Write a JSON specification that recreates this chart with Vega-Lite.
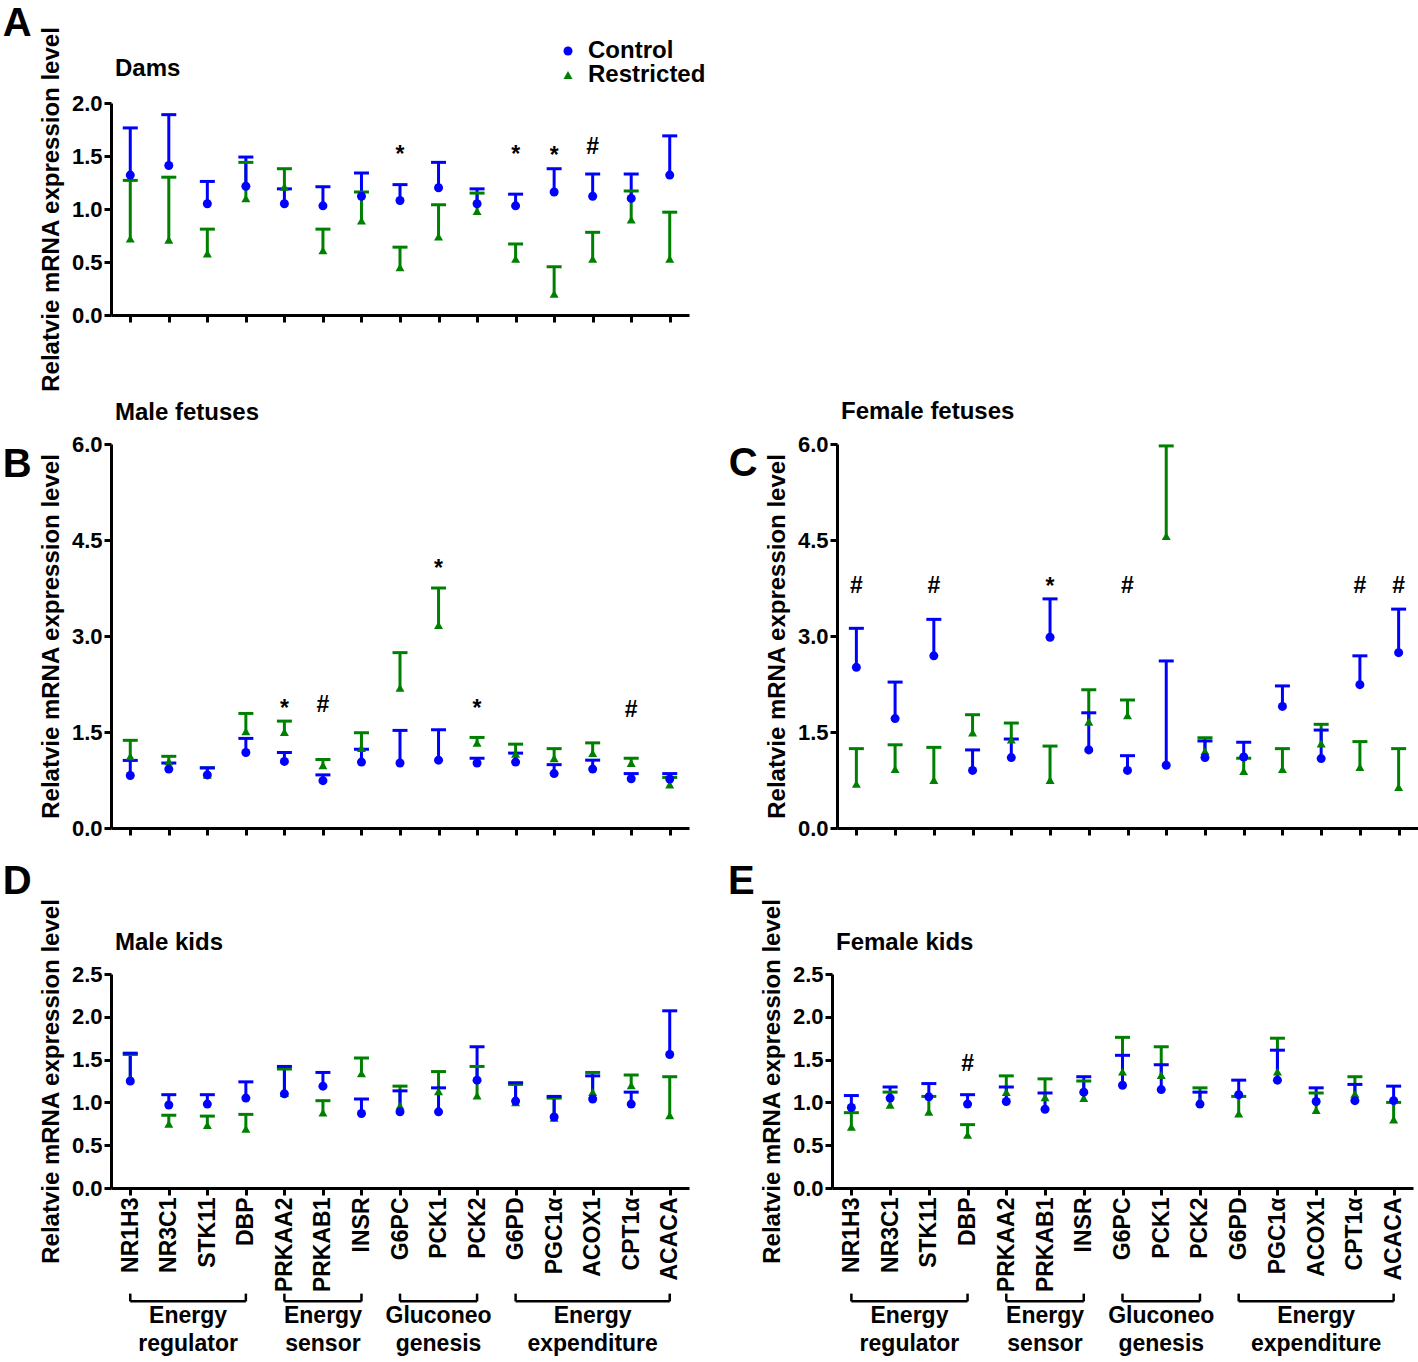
{
  "$schema": "https://vega.github.io/schema/vega-lite/v6.json",
  "padding": {"left": 2, "top": 4, "right": 0, "bottom": 0},
  "config": {
    "view": {"stroke": null},
    "font": "Liberation Sans",
    "axis": {"domainColor": "#000", "domainWidth": 3, "tickColor": "#000", "tickWidth": 3, "tickSize": 7, "labelColor": "#000", "labelFont": "Liberation Sans", "labelFontWeight": "bold", "titleColor": "#000", "titleFont": "Liberation Sans", "titleFontWeight": "bold", "titleFontSize": 24, "grid": false},
    "axisY": {"labelFontSize": 22, "labelPadding": 2, "titlePadding": 8},
    "axisX": {"labelFontSize": 23, "labelPadding": 2},
    "title": {"font": "Liberation Sans", "fontWeight": "bold", "fontSize": 24, "color": "#000"},
    "legend": {"labelFont": "Liberation Sans"}
  },
  "datasets": {
    "genes": [
      {"gene": "NR1H3", "idx": 1, "group": "Energy regulator"},
      {"gene": "NR3C1", "idx": 2, "group": "Energy regulator"},
      {"gene": "STK11", "idx": 3, "group": "Energy regulator"},
      {"gene": "DBP", "idx": 4, "group": "Energy regulator"},
      {"gene": "PRKAA2", "idx": 5, "group": "Energy sensor"},
      {"gene": "PRKAB1", "idx": 6, "group": "Energy sensor"},
      {"gene": "INSR", "idx": 7, "group": "Energy sensor"},
      {"gene": "G6PC", "idx": 8, "group": "Gluconeo genesis"},
      {"gene": "PCK1", "idx": 9, "group": "Gluconeo genesis"},
      {"gene": "PCK2", "idx": 10, "group": "Gluconeo genesis"},
      {"gene": "G6PD", "idx": 11, "group": "Energy expenditure"},
      {"gene": "PGC1α", "idx": 12, "group": "Energy expenditure"},
      {"gene": "ACOX1", "idx": 13, "group": "Energy expenditure"},
      {"gene": "CPT1α", "idx": 14, "group": "Energy expenditure"},
      {"gene": "ACACA", "idx": 15, "group": "Energy expenditure"}
    ],
    "marks": [
      {"panel": "A", "gene": "G6PC", "sig": "*", "level": 1.44},
      {"panel": "A", "gene": "G6PD", "sig": "*", "level": 1.44},
      {"panel": "A", "gene": "PGC1α", "sig": "*", "level": 1.43},
      {"panel": "A", "gene": "ACOX1", "sig": "#", "level": 1.52},
      {"panel": "B", "gene": "PRKAA2", "sig": "*", "level": 1.75},
      {"panel": "B", "gene": "PRKAB1", "sig": "#", "level": 1.82},
      {"panel": "B", "gene": "PCK1", "sig": "*", "level": 3.94},
      {"panel": "B", "gene": "PCK2", "sig": "*", "level": 1.75},
      {"panel": "B", "gene": "CPT1α", "sig": "#", "level": 1.74},
      {"panel": "C", "gene": "NR1H3", "sig": "#", "level": 3.67},
      {"panel": "C", "gene": "STK11", "sig": "#", "level": 3.67},
      {"panel": "C", "gene": "PRKAB1", "sig": "*", "level": 3.66},
      {"panel": "C", "gene": "G6PC", "sig": "#", "level": 3.67},
      {"panel": "C", "gene": "CPT1α", "sig": "#", "level": 3.67},
      {"panel": "C", "gene": "ACACA", "sig": "#", "level": 3.67},
      {"panel": "E", "gene": "DBP", "sig": "#", "level": 1.37}
    ],
    "expr": [
      {"panel": "A", "gene": "NR1H3", "group": "Restricted", "mean": 0.72, "upper": 1.27},
      {"panel": "A", "gene": "NR3C1", "group": "Restricted", "mean": 0.71, "upper": 1.30},
      {"panel": "A", "gene": "STK11", "group": "Restricted", "mean": 0.58, "upper": 0.81},
      {"panel": "A", "gene": "DBP", "group": "Restricted", "mean": 1.10, "upper": 1.44},
      {"panel": "A", "gene": "PRKAA2", "group": "Restricted", "mean": 1.21, "upper": 1.38},
      {"panel": "A", "gene": "PRKAB1", "group": "Restricted", "mean": 0.61, "upper": 0.81},
      {"panel": "A", "gene": "INSR", "group": "Restricted", "mean": 0.89, "upper": 1.16},
      {"panel": "A", "gene": "G6PC", "group": "Restricted", "mean": 0.45, "upper": 0.64},
      {"panel": "A", "gene": "PCK1", "group": "Restricted", "mean": 0.74, "upper": 1.04},
      {"panel": "A", "gene": "PCK2", "group": "Restricted", "mean": 0.98, "upper": 1.15},
      {"panel": "A", "gene": "G6PD", "group": "Restricted", "mean": 0.53, "upper": 0.67},
      {"panel": "A", "gene": "PGC1α", "group": "Restricted", "mean": 0.20, "upper": 0.455},
      {"panel": "A", "gene": "ACOX1", "group": "Restricted", "mean": 0.53, "upper": 0.78},
      {"panel": "A", "gene": "CPT1α", "group": "Restricted", "mean": 0.90, "upper": 1.17},
      {"panel": "A", "gene": "ACACA", "group": "Restricted", "mean": 0.53, "upper": 0.97},
      {"panel": "A", "gene": "NR1H3", "group": "Control", "mean": 1.32, "upper": 1.765},
      {"panel": "A", "gene": "NR3C1", "group": "Control", "mean": 1.41, "upper": 1.89},
      {"panel": "A", "gene": "STK11", "group": "Control", "mean": 1.05, "upper": 1.26},
      {"panel": "A", "gene": "DBP", "group": "Control", "mean": 1.215, "upper": 1.49},
      {"panel": "A", "gene": "PRKAA2", "group": "Control", "mean": 1.05, "upper": 1.19},
      {"panel": "A", "gene": "PRKAB1", "group": "Control", "mean": 1.03, "upper": 1.21},
      {"panel": "A", "gene": "INSR", "group": "Control", "mean": 1.12, "upper": 1.34},
      {"panel": "A", "gene": "G6PC", "group": "Control", "mean": 1.08, "upper": 1.23},
      {"panel": "A", "gene": "PCK1", "group": "Control", "mean": 1.20, "upper": 1.44},
      {"panel": "A", "gene": "PCK2", "group": "Control", "mean": 1.05, "upper": 1.19},
      {"panel": "A", "gene": "G6PD", "group": "Control", "mean": 1.03, "upper": 1.14},
      {"panel": "A", "gene": "PGC1α", "group": "Control", "mean": 1.16, "upper": 1.38},
      {"panel": "A", "gene": "ACOX1", "group": "Control", "mean": 1.12, "upper": 1.33},
      {"panel": "A", "gene": "CPT1α", "group": "Control", "mean": 1.10, "upper": 1.33},
      {"panel": "A", "gene": "ACACA", "group": "Control", "mean": 1.32, "upper": 1.69},

      {"panel": "B", "gene": "NR1H3", "group": "Restricted", "mean": 1.12, "upper": 1.37},
      {"panel": "B", "gene": "NR3C1", "group": "Restricted", "mean": 1.04, "upper": 1.12},
      {"panel": "B", "gene": "STK11", "group": "Restricted", "mean": 0.83, "upper": 0.94},
      {"panel": "B", "gene": "DBP", "group": "Restricted", "mean": 1.51, "upper": 1.79},
      {"panel": "B", "gene": "PRKAA2", "group": "Restricted", "mean": 1.50, "upper": 1.67},
      {"panel": "B", "gene": "PRKAB1", "group": "Restricted", "mean": 0.98, "upper": 1.07},
      {"panel": "B", "gene": "INSR", "group": "Restricted", "mean": 1.25, "upper": 1.49},
      {"panel": "B", "gene": "G6PC", "group": "Restricted", "mean": 2.19, "upper": 2.74},
      {"panel": "B", "gene": "PCK1", "group": "Restricted", "mean": 3.17, "upper": 3.75},
      {"panel": "B", "gene": "PCK2", "group": "Restricted", "mean": 1.33, "upper": 1.415},
      {"panel": "B", "gene": "G6PD", "group": "Restricted", "mean": 1.16, "upper": 1.31},
      {"panel": "B", "gene": "PGC1α", "group": "Restricted", "mean": 1.09, "upper": 1.24},
      {"panel": "B", "gene": "ACOX1", "group": "Restricted", "mean": 1.17, "upper": 1.33},
      {"panel": "B", "gene": "CPT1α", "group": "Restricted", "mean": 1.015, "upper": 1.09},
      {"panel": "B", "gene": "ACACA", "group": "Restricted", "mean": 0.68, "upper": 0.79},
      {"panel": "B", "gene": "NR1H3", "group": "Control", "mean": 0.82, "upper": 1.056},
      {"panel": "B", "gene": "NR3C1", "group": "Control", "mean": 0.92, "upper": 1.015},
      {"panel": "B", "gene": "STK11", "group": "Control", "mean": 0.83, "upper": 0.94},
      {"panel": "B", "gene": "DBP", "group": "Control", "mean": 1.18, "upper": 1.40},
      {"panel": "B", "gene": "PRKAA2", "group": "Control", "mean": 1.04, "upper": 1.18},
      {"panel": "B", "gene": "PRKAB1", "group": "Control", "mean": 0.74, "upper": 0.83},
      {"panel": "B", "gene": "INSR", "group": "Control", "mean": 1.03, "upper": 1.23},
      {"panel": "B", "gene": "G6PC", "group": "Control", "mean": 1.015, "upper": 1.525},
      {"panel": "B", "gene": "PCK1", "group": "Control", "mean": 1.06, "upper": 1.535},
      {"panel": "B", "gene": "PCK2", "group": "Control", "mean": 1.015, "upper": 1.09},
      {"panel": "B", "gene": "G6PD", "group": "Control", "mean": 1.03, "upper": 1.17},
      {"panel": "B", "gene": "PGC1α", "group": "Control", "mean": 0.85, "upper": 0.99},
      {"panel": "B", "gene": "ACOX1", "group": "Control", "mean": 0.92, "upper": 1.06},
      {"panel": "B", "gene": "CPT1α", "group": "Control", "mean": 0.77, "upper": 0.85},
      {"panel": "B", "gene": "ACACA", "group": "Control", "mean": 0.765, "upper": 0.85},

      {"panel": "C", "gene": "NR1H3", "group": "Restricted", "mean": 0.69, "upper": 1.24},
      {"panel": "C", "gene": "NR3C1", "group": "Restricted", "mean": 0.92, "upper": 1.30},
      {"panel": "C", "gene": "STK11", "group": "Restricted", "mean": 0.75, "upper": 1.26},
      {"panel": "C", "gene": "DBP", "group": "Restricted", "mean": 1.49, "upper": 1.77},
      {"panel": "C", "gene": "PRKAA2", "group": "Restricted", "mean": 1.38, "upper": 1.64},
      {"panel": "C", "gene": "PRKAB1", "group": "Restricted", "mean": 0.75, "upper": 1.28},
      {"panel": "C", "gene": "INSR", "group": "Restricted", "mean": 1.66, "upper": 2.16},
      {"panel": "C", "gene": "G6PC", "group": "Restricted", "mean": 1.76, "upper": 2.00},
      {"panel": "C", "gene": "PCK1", "group": "Restricted", "mean": 4.56, "upper": 5.97},
      {"panel": "C", "gene": "PCK2", "group": "Restricted", "mean": 1.20, "upper": 1.41},
      {"panel": "C", "gene": "G6PD", "group": "Restricted", "mean": 0.89, "upper": 1.09},
      {"panel": "C", "gene": "PGC1α", "group": "Restricted", "mean": 0.92, "upper": 1.24},
      {"panel": "C", "gene": "ACOX1", "group": "Restricted", "mean": 1.32, "upper": 1.62},
      {"panel": "C", "gene": "CPT1α", "group": "Restricted", "mean": 0.95, "upper": 1.35},
      {"panel": "C", "gene": "ACACA", "group": "Restricted", "mean": 0.64, "upper": 1.24},
      {"panel": "C", "gene": "NR1H3", "group": "Control", "mean": 2.51, "upper": 3.12},
      {"panel": "C", "gene": "NR3C1", "group": "Control", "mean": 1.71, "upper": 2.28},
      {"panel": "C", "gene": "STK11", "group": "Control", "mean": 2.69, "upper": 3.26},
      {"panel": "C", "gene": "DBP", "group": "Control", "mean": 0.90, "upper": 1.22},
      {"panel": "C", "gene": "PRKAA2", "group": "Control", "mean": 1.10, "upper": 1.39},
      {"panel": "C", "gene": "PRKAB1", "group": "Control", "mean": 2.98, "upper": 3.58},
      {"panel": "C", "gene": "INSR", "group": "Control", "mean": 1.22, "upper": 1.80},
      {"panel": "C", "gene": "G6PC", "group": "Control", "mean": 0.90, "upper": 1.13},
      {"panel": "C", "gene": "PCK1", "group": "Control", "mean": 0.98, "upper": 2.61},
      {"panel": "C", "gene": "PCK2", "group": "Control", "mean": 1.10, "upper": 1.36},
      {"panel": "C", "gene": "G6PD", "group": "Control", "mean": 1.11, "upper": 1.34},
      {"panel": "C", "gene": "PGC1α", "group": "Control", "mean": 1.90, "upper": 2.22},
      {"panel": "C", "gene": "ACOX1", "group": "Control", "mean": 1.085, "upper": 1.53},
      {"panel": "C", "gene": "CPT1α", "group": "Control", "mean": 2.24, "upper": 2.69},
      {"panel": "C", "gene": "ACACA", "group": "Control", "mean": 2.74, "upper": 3.42},

      {"panel": "D", "gene": "NR1H3", "group": "Restricted", "mean": 1.27, "upper": 1.56},
      {"panel": "D", "gene": "NR3C1", "group": "Restricted", "mean": 0.75, "upper": 0.85},
      {"panel": "D", "gene": "STK11", "group": "Restricted", "mean": 0.735, "upper": 0.84},
      {"panel": "D", "gene": "DBP", "group": "Restricted", "mean": 0.69, "upper": 0.86},
      {"panel": "D", "gene": "PRKAA2", "group": "Restricted", "mean": 1.11, "upper": 1.39},
      {"panel": "D", "gene": "PRKAB1", "group": "Restricted", "mean": 0.88, "upper": 1.02},
      {"panel": "D", "gene": "INSR", "group": "Restricted", "mean": 1.34, "upper": 1.52},
      {"panel": "D", "gene": "G6PC", "group": "Restricted", "mean": 0.96, "upper": 1.19},
      {"panel": "D", "gene": "PCK1", "group": "Restricted", "mean": 1.13, "upper": 1.36},
      {"panel": "D", "gene": "PCK2", "group": "Restricted", "mean": 1.08, "upper": 1.42},
      {"panel": "D", "gene": "G6PD", "group": "Restricted", "mean": 1.00, "upper": 1.21},
      {"panel": "D", "gene": "PGC1α", "group": "Restricted", "mean": 0.82, "upper": 1.05},
      {"panel": "D", "gene": "ACOX1", "group": "Restricted", "mean": 1.12, "upper": 1.35},
      {"panel": "D", "gene": "CPT1α", "group": "Restricted", "mean": 1.20, "upper": 1.32},
      {"panel": "D", "gene": "ACACA", "group": "Restricted", "mean": 0.85, "upper": 1.30},
      {"panel": "D", "gene": "NR1H3", "group": "Control", "mean": 1.25, "upper": 1.575},
      {"panel": "D", "gene": "NR3C1", "group": "Control", "mean": 0.97, "upper": 1.09},
      {"panel": "D", "gene": "STK11", "group": "Control", "mean": 0.98, "upper": 1.09},
      {"panel": "D", "gene": "DBP", "group": "Control", "mean": 1.05, "upper": 1.24},
      {"panel": "D", "gene": "PRKAA2", "group": "Control", "mean": 1.10, "upper": 1.42},
      {"panel": "D", "gene": "PRKAB1", "group": "Control", "mean": 1.19, "upper": 1.35},
      {"panel": "D", "gene": "INSR", "group": "Control", "mean": 0.87, "upper": 1.04},
      {"panel": "D", "gene": "G6PC", "group": "Control", "mean": 0.89, "upper": 1.135},
      {"panel": "D", "gene": "PCK1", "group": "Control", "mean": 0.89, "upper": 1.17},
      {"panel": "D", "gene": "PCK2", "group": "Control", "mean": 1.26, "upper": 1.65},
      {"panel": "D", "gene": "G6PD", "group": "Control", "mean": 1.015, "upper": 1.23},
      {"panel": "D", "gene": "PGC1α", "group": "Control", "mean": 0.83, "upper": 1.07},
      {"panel": "D", "gene": "ACOX1", "group": "Control", "mean": 1.04, "upper": 1.31},
      {"panel": "D", "gene": "CPT1α", "group": "Control", "mean": 0.98, "upper": 1.12},
      {"panel": "D", "gene": "ACACA", "group": "Control", "mean": 1.56, "upper": 2.07},

      {"panel": "E", "gene": "NR1H3", "group": "Restricted", "mean": 0.715, "upper": 0.88},
      {"panel": "E", "gene": "NR3C1", "group": "Restricted", "mean": 0.97, "upper": 1.12},
      {"panel": "E", "gene": "STK11", "group": "Restricted", "mean": 0.89, "upper": 1.07},
      {"panel": "E", "gene": "DBP", "group": "Restricted", "mean": 0.62, "upper": 0.74},
      {"panel": "E", "gene": "PRKAA2", "group": "Restricted", "mean": 1.12, "upper": 1.31},
      {"panel": "E", "gene": "PRKAB1", "group": "Restricted", "mean": 1.06, "upper": 1.275},
      {"panel": "E", "gene": "INSR", "group": "Restricted", "mean": 1.05, "upper": 1.25},
      {"panel": "E", "gene": "G6PC", "group": "Restricted", "mean": 1.36, "upper": 1.76},
      {"panel": "E", "gene": "PCK1", "group": "Restricted", "mean": 1.32, "upper": 1.65},
      {"panel": "E", "gene": "PCK2", "group": "Restricted", "mean": 1.015, "upper": 1.17},
      {"panel": "E", "gene": "G6PD", "group": "Restricted", "mean": 0.87, "upper": 1.07},
      {"panel": "E", "gene": "PGC1α", "group": "Restricted", "mean": 1.36, "upper": 1.75},
      {"panel": "E", "gene": "ACOX1", "group": "Restricted", "mean": 0.91, "upper": 1.11},
      {"panel": "E", "gene": "CPT1α", "group": "Restricted", "mean": 1.10, "upper": 1.30},
      {"panel": "E", "gene": "ACACA", "group": "Restricted", "mean": 0.80, "upper": 1.00},
      {"panel": "E", "gene": "NR1H3", "group": "Control", "mean": 0.94, "upper": 1.08},
      {"panel": "E", "gene": "NR3C1", "group": "Control", "mean": 1.05, "upper": 1.18},
      {"panel": "E", "gene": "STK11", "group": "Control", "mean": 1.065, "upper": 1.22},
      {"panel": "E", "gene": "DBP", "group": "Control", "mean": 0.98, "upper": 1.09},
      {"panel": "E", "gene": "PRKAA2", "group": "Control", "mean": 1.01, "upper": 1.18},
      {"panel": "E", "gene": "PRKAB1", "group": "Control", "mean": 0.92, "upper": 1.11},
      {"panel": "E", "gene": "INSR", "group": "Control", "mean": 1.12, "upper": 1.30},
      {"panel": "E", "gene": "G6PC", "group": "Control", "mean": 1.20, "upper": 1.55},
      {"panel": "E", "gene": "PCK1", "group": "Control", "mean": 1.15, "upper": 1.44},
      {"panel": "E", "gene": "PCK2", "group": "Control", "mean": 0.98, "upper": 1.12},
      {"panel": "E", "gene": "G6PD", "group": "Control", "mean": 1.09, "upper": 1.26},
      {"panel": "E", "gene": "PGC1α", "group": "Control", "mean": 1.26, "upper": 1.61},
      {"panel": "E", "gene": "ACOX1", "group": "Control", "mean": 1.01, "upper": 1.17},
      {"panel": "E", "gene": "CPT1α", "group": "Control", "mean": 1.02, "upper": 1.21},
      {"panel": "E", "gene": "ACACA", "group": "Control", "mean": 1.02, "upper": 1.19}
    ]
  },
  "spacing": 23,
  "vconcat": [
    {
      "spacing": 8,
      "vconcat": [
        {
          "title": {"text": "A", "orient": "left", "anchor": "end", "frame": "bounds", "angle": 0, "align": "right", "baseline": "top", "fontSize": 40, "offset": -21, "dy": -22},
          "vconcat": [
            {
              "width": 578, "height": 212,
              "title": {"text": "Dams", "anchor": "start", "frame": "group", "offset": -74, "dx": 4, "baseline": "alphabetic"},
              "resolve": {"legend": {"color": "independent", "shape": "independent"}},
              "layer": [
                {"data": {"name": "expr"}, "transform": [{"filter": "datum.panel === 'A'"}],
                 "mark": {"type": "rule", "strokeWidth": 3},
                 "encoding": {
                   "x": {"field": "gene", "type": "nominal", "title": null, "scale": {"type": "point", "domain": ["NR1H3","NR3C1","STK11","DBP","PRKAA2","PRKAB1","INSR","G6PC","PCK1","PCK2","G6PD","PGC1α","ACOX1","CPT1α","ACACA"], "padding": 0.5}, "axis": {"labels": false, "title": null}},
                   "y": {"field": "mean", "type": "quantitative", "title": "Relatvie mRNA expression level", "scale": {"domain": [0, 2], "nice": false}, "axis": {"values": [0, 0.5, 1, 1.5, 2], "format": ".1f"}},
                   "y2": {"field": "upper"},
                   "color": {"field": "group", "type": "nominal", "scale": {"domain": ["Control", "Restricted"], "range": ["#0000ff", "#008000"]}, "legend": null}
                 }},
                {"data": {"name": "expr"}, "transform": [{"filter": "datum.panel === 'A'"}],
                 "mark": {"type": "tick", "thickness": 3, "size": 15, "opacity": 1},
                 "encoding": {
                   "x": {"field": "gene", "type": "nominal", "title": null},
                   "y": {"field": "upper", "type": "quantitative", "title": "Relatvie mRNA expression level"},
                   "color": {"field": "group", "type": "nominal", "legend": null}
                 }},
                {"data": {"name": "expr"}, "transform": [{"filter": "datum.panel === 'A'"}],
                 "mark": {"type": "point", "filled": true, "size": 81, "opacity": 1},
                 "encoding": {
                   "x": {"field": "gene", "type": "nominal", "title": null},
                   "y": {"field": "mean", "type": "quantitative", "title": "Relatvie mRNA expression level"},
                   "color": {"field": "group", "type": "nominal", "legend": {"title": null, "orient": "none", "legendX": 445, "legendY": -64, "padding": 0, "labelFontSize": 24, "labelFontWeight": "bold", "labelColor": "#000", "symbolSize": 81, "symbolStrokeWidth": 0, "labelOffset": 8, "rowPadding": -2}},
                   "shape": {"field": "group", "type": "nominal", "scale": {"domain": ["Control", "Restricted"], "range": ["circle", "triangle-up"]}, "legend": {"title": null, "orient": "none", "legendX": 445, "legendY": -64, "padding": 0, "labelFontSize": 24, "labelFontWeight": "bold", "labelColor": "#000", "symbolSize": 81, "symbolStrokeWidth": 0, "labelOffset": 8, "rowPadding": -2}}
                 }},
                {"data": {"name": "marks"}, "transform": [{"filter": "datum.panel === 'A'"}],
                 "mark": {"type": "text", "fontSize": 23, "fontWeight": "bold", "baseline": "alphabetic", "color": "#000"},
                 "encoding": {
                   "x": {"field": "gene", "type": "nominal", "title": null},
                   "y": {"field": "level", "type": "quantitative", "title": "Relatvie mRNA expression level"},
                   "text": {"field": "sig"}
                 }}
              ]
            }
          ]
        },
        {
          "spacing": 39,
          "hconcat": [
            {
              "title": {"text": "B", "orient": "left", "anchor": "end", "frame": "bounds", "angle": 0, "align": "right", "baseline": "top", "fontSize": 40, "offset": -21, "dy": 44},
              "vconcat": [
                {
                  "width": 578, "height": 384,
                  "title": {"text": "Male fetuses", "anchor": "start", "frame": "group", "offset": -11, "dx": 4, "baseline": "alphabetic"},
                  "layer": [
                    {"data": {"name": "expr"}, "transform": [{"filter": "datum.panel === 'B'"}],
                     "mark": {"type": "rule", "strokeWidth": 3},
                     "encoding": {
                       "x": {"field": "gene", "type": "nominal", "title": null, "scale": {"type": "point", "domain": ["NR1H3","NR3C1","STK11","DBP","PRKAA2","PRKAB1","INSR","G6PC","PCK1","PCK2","G6PD","PGC1α","ACOX1","CPT1α","ACACA"], "padding": 0.5}, "axis": {"labels": false, "title": null}},
                       "y": {"field": "mean", "type": "quantitative", "title": "Relatvie mRNA expression level", "scale": {"domain": [0, 6], "nice": false}, "axis": {"values": [0, 1.5, 3, 4.5, 6], "format": ".1f"}},
                       "y2": {"field": "upper"},
                       "color": {"field": "group", "type": "nominal", "scale": {"domain": ["Control", "Restricted"], "range": ["#0000ff", "#008000"]}, "legend": null}
                     }},
                    {"data": {"name": "expr"}, "transform": [{"filter": "datum.panel === 'B'"}],
                     "mark": {"type": "tick", "thickness": 3, "size": 15, "opacity": 1},
                     "encoding": {
                       "x": {"field": "gene", "type": "nominal", "title": null},
                       "y": {"field": "upper", "type": "quantitative", "title": "Relatvie mRNA expression level"},
                       "color": {"field": "group", "type": "nominal", "legend": null}
                     }},
                    {"data": {"name": "expr"}, "transform": [{"filter": "datum.panel === 'B'"}],
                     "mark": {"type": "point", "filled": true, "size": 81, "opacity": 1},
                     "encoding": {
                       "x": {"field": "gene", "type": "nominal", "title": null},
                       "y": {"field": "mean", "type": "quantitative", "title": "Relatvie mRNA expression level"},
                       "color": {"field": "group", "type": "nominal", "legend": null},
                       "shape": {"field": "group", "type": "nominal", "scale": {"domain": ["Control", "Restricted"], "range": ["circle", "triangle-up"]}, "legend": null}
                     }},
                    {"data": {"name": "marks"}, "transform": [{"filter": "datum.panel === 'B'"}],
                     "mark": {"type": "text", "fontSize": 23, "fontWeight": "bold", "baseline": "alphabetic", "color": "#000"},
                     "encoding": {
                       "x": {"field": "gene", "type": "nominal", "title": null},
                       "y": {"field": "level", "type": "quantitative", "title": "Relatvie mRNA expression level"},
                       "text": {"field": "sig"}
                     }}
                  ]
                }
              ]
            },
            {
              "title": {"text": "C", "orient": "left", "anchor": "end", "frame": "bounds", "angle": 0, "align": "right", "baseline": "top", "fontSize": 40, "offset": -21, "dy": 44},
              "vconcat": [
                {
                  "width": 581, "height": 384,
                  "title": {"text": "Female fetuses", "anchor": "start", "frame": "group", "offset": -10, "dx": 4, "baseline": "alphabetic"},
                  "layer": [
                    {"data": {"name": "expr"}, "transform": [{"filter": "datum.panel === 'C'"}],
                     "mark": {"type": "rule", "strokeWidth": 3},
                     "encoding": {
                       "x": {"field": "gene", "type": "nominal", "title": null, "scale": {"type": "point", "domain": ["NR1H3","NR3C1","STK11","DBP","PRKAA2","PRKAB1","INSR","G6PC","PCK1","PCK2","G6PD","PGC1α","ACOX1","CPT1α","ACACA"], "padding": 0.5}, "axis": {"labels": false, "title": null}},
                       "y": {"field": "mean", "type": "quantitative", "title": "Relatvie mRNA expression level", "scale": {"domain": [0, 6], "nice": false}, "axis": {"values": [0, 1.5, 3, 4.5, 6], "format": ".1f"}},
                       "y2": {"field": "upper"},
                       "color": {"field": "group", "type": "nominal", "scale": {"domain": ["Control", "Restricted"], "range": ["#0000ff", "#008000"]}, "legend": null}
                     }},
                    {"data": {"name": "expr"}, "transform": [{"filter": "datum.panel === 'C'"}],
                     "mark": {"type": "tick", "thickness": 3, "size": 15, "opacity": 1},
                     "encoding": {
                       "x": {"field": "gene", "type": "nominal", "title": null},
                       "y": {"field": "upper", "type": "quantitative", "title": "Relatvie mRNA expression level"},
                       "color": {"field": "group", "type": "nominal", "legend": null}
                     }},
                    {"data": {"name": "expr"}, "transform": [{"filter": "datum.panel === 'C'"}],
                     "mark": {"type": "point", "filled": true, "size": 81, "opacity": 1},
                     "encoding": {
                       "x": {"field": "gene", "type": "nominal", "title": null},
                       "y": {"field": "mean", "type": "quantitative", "title": "Relatvie mRNA expression level"},
                       "color": {"field": "group", "type": "nominal", "legend": null},
                       "shape": {"field": "group", "type": "nominal", "scale": {"domain": ["Control", "Restricted"], "range": ["circle", "triangle-up"]}, "legend": null}
                     }},
                    {"data": {"name": "marks"}, "transform": [{"filter": "datum.panel === 'C'"}],
                     "mark": {"type": "text", "fontSize": 23, "fontWeight": "bold", "baseline": "alphabetic", "color": "#000"},
                     "encoding": {
                       "x": {"field": "gene", "type": "nominal", "title": null},
                       "y": {"field": "level", "type": "quantitative", "title": "Relatvie mRNA expression level"},
                       "text": {"field": "sig"}
                     }}
                  ]
                }
              ]
            }
          ]
        }
      ]
    },
    {
      "spacing": 39,
      "hconcat": [
        {
          "title": {"text": "D", "orient": "left", "anchor": "end", "frame": "bounds", "angle": 0, "align": "right", "baseline": "top", "fontSize": 40, "offset": -21, "dy": -36},
          "bounds": "flush",
          "spacing": 105,
          "vconcat": [
            {
              "width": 578, "height": 214,
              "title": {"text": "Male kids", "anchor": "start", "frame": "group", "offset": -76, "dx": 4, "baseline": "alphabetic"},
              "layer": [
                {"data": {"name": "expr"}, "transform": [{"filter": "datum.panel === 'D'"}],
                 "mark": {"type": "rule", "strokeWidth": 3},
                 "encoding": {
                   "x": {"field": "gene", "type": "nominal", "title": null, "scale": {"type": "point", "domain": ["NR1H3","NR3C1","STK11","DBP","PRKAA2","PRKAB1","INSR","G6PC","PCK1","PCK2","G6PD","PGC1α","ACOX1","CPT1α","ACACA"], "padding": 0.5}, "axis": {"labelAngle": -90, "title": null}},
                   "y": {"field": "mean", "type": "quantitative", "title": "Relatvie mRNA expression level", "scale": {"domain": [0, 2.5], "nice": false}, "axis": {"values": [0, 0.5, 1, 1.5, 2, 2.5], "format": ".1f"}},
                   "y2": {"field": "upper"},
                   "color": {"field": "group", "type": "nominal", "scale": {"domain": ["Control", "Restricted"], "range": ["#0000ff", "#008000"]}, "legend": null}
                 }},
                {"data": {"name": "expr"}, "transform": [{"filter": "datum.panel === 'D'"}],
                 "mark": {"type": "tick", "thickness": 3, "size": 15, "opacity": 1},
                 "encoding": {
                   "x": {"field": "gene", "type": "nominal", "title": null},
                   "y": {"field": "upper", "type": "quantitative", "title": "Relatvie mRNA expression level"},
                   "color": {"field": "group", "type": "nominal", "legend": null}
                 }},
                {"data": {"name": "expr"}, "transform": [{"filter": "datum.panel === 'D'"}],
                 "mark": {"type": "point", "filled": true, "size": 81, "opacity": 1},
                 "encoding": {
                   "x": {"field": "gene", "type": "nominal", "title": null},
                   "y": {"field": "mean", "type": "quantitative", "title": "Relatvie mRNA expression level"},
                   "color": {"field": "group", "type": "nominal", "legend": null},
                   "shape": {"field": "group", "type": "nominal", "scale": {"domain": ["Control", "Restricted"], "range": ["circle", "triangle-up"]}, "legend": null}
                 }}
              ]
            },
            {
              "width": 578, "height": 62,
              "data": {"name": "genes"},
              "transform": [{"aggregate": [{"op": "min", "field": "idx", "as": "lo"}, {"op": "max", "field": "idx", "as": "hi"}, {"op": "mean", "field": "idx", "as": "mid"}], "groupby": ["group"]}],
              "layer": [
                {"mark": {"type": "rule", "strokeWidth": 2.5, "color": "#000"},
                 "encoding": {
                   "x": {"field": "lo", "type": "quantitative", "scale": {"domain": [0.5, 15.5], "nice": false, "zero": false}, "axis": null},
                   "x2": {"field": "hi"},
                   "y": {"datum": 0.135, "type": "quantitative", "scale": {"domain": [0, 1], "reverse": true}, "axis": null}
                 }},
                {"mark": {"type": "rule", "strokeWidth": 2.5, "color": "#000"},
                 "encoding": {
                   "x": {"field": "lo", "type": "quantitative"},
                   "y": {"datum": 0.01, "type": "quantitative"},
                   "y2": {"datum": 0.135}
                 }},
                {"mark": {"type": "rule", "strokeWidth": 2.5, "color": "#000"},
                 "encoding": {
                   "x": {"field": "hi", "type": "quantitative"},
                   "y": {"datum": 0.01, "type": "quantitative"},
                   "y2": {"datum": 0.135}
                 }},
                {"mark": {"type": "text", "fontSize": 23, "fontWeight": "bold", "baseline": "top", "align": "center", "lineBreak": " ", "lineHeight": 28, "color": "#000"},
                 "encoding": {
                   "x": {"field": "mid", "type": "quantitative"},
                   "y": {"datum": 0.19, "type": "quantitative"},
                   "text": {"field": "group"}
                 }}
              ]
            }
          ]
        },
        {
          "title": {"text": "E", "orient": "left", "anchor": "end", "frame": "bounds", "angle": 0, "align": "right", "baseline": "top", "fontSize": 40, "offset": -21, "dy": -36},
          "bounds": "flush",
          "spacing": 105,
          "vconcat": [
            {
              "width": 581, "height": 214,
              "title": {"text": "Female kids", "anchor": "start", "frame": "group", "offset": -76, "dx": 4, "baseline": "alphabetic"},
              "layer": [
                {"data": {"name": "expr"}, "transform": [{"filter": "datum.panel === 'E'"}],
                 "mark": {"type": "rule", "strokeWidth": 3},
                 "encoding": {
                   "x": {"field": "gene", "type": "nominal", "title": null, "scale": {"type": "point", "domain": ["NR1H3","NR3C1","STK11","DBP","PRKAA2","PRKAB1","INSR","G6PC","PCK1","PCK2","G6PD","PGC1α","ACOX1","CPT1α","ACACA"], "padding": 0.5}, "axis": {"labelAngle": -90, "title": null}},
                   "y": {"field": "mean", "type": "quantitative", "title": "Relatvie mRNA expression level", "scale": {"domain": [0, 2.5], "nice": false}, "axis": {"values": [0, 0.5, 1, 1.5, 2, 2.5], "format": ".1f"}},
                   "y2": {"field": "upper"},
                   "color": {"field": "group", "type": "nominal", "scale": {"domain": ["Control", "Restricted"], "range": ["#0000ff", "#008000"]}, "legend": null}
                 }},
                {"data": {"name": "expr"}, "transform": [{"filter": "datum.panel === 'E'"}],
                 "mark": {"type": "tick", "thickness": 3, "size": 15, "opacity": 1},
                 "encoding": {
                   "x": {"field": "gene", "type": "nominal", "title": null},
                   "y": {"field": "upper", "type": "quantitative", "title": "Relatvie mRNA expression level"},
                   "color": {"field": "group", "type": "nominal", "legend": null}
                 }},
                {"data": {"name": "expr"}, "transform": [{"filter": "datum.panel === 'E'"}],
                 "mark": {"type": "point", "filled": true, "size": 81, "opacity": 1},
                 "encoding": {
                   "x": {"field": "gene", "type": "nominal", "title": null},
                   "y": {"field": "mean", "type": "quantitative", "title": "Relatvie mRNA expression level"},
                   "color": {"field": "group", "type": "nominal", "legend": null},
                   "shape": {"field": "group", "type": "nominal", "scale": {"domain": ["Control", "Restricted"], "range": ["circle", "triangle-up"]}, "legend": null}
                 }},
                {"data": {"name": "marks"}, "transform": [{"filter": "datum.panel === 'E'"}],
                 "mark": {"type": "text", "fontSize": 23, "fontWeight": "bold", "baseline": "alphabetic", "color": "#000"},
                 "encoding": {
                   "x": {"field": "gene", "type": "nominal", "title": null},
                   "y": {"field": "level", "type": "quantitative", "title": "Relatvie mRNA expression level"},
                   "text": {"field": "sig"}
                 }}
              ]
            },
            {
              "width": 581, "height": 62,
              "data": {"name": "genes"},
              "transform": [{"aggregate": [{"op": "min", "field": "idx", "as": "lo"}, {"op": "max", "field": "idx", "as": "hi"}, {"op": "mean", "field": "idx", "as": "mid"}], "groupby": ["group"]}],
              "layer": [
                {"mark": {"type": "rule", "strokeWidth": 2.5, "color": "#000"},
                 "encoding": {
                   "x": {"field": "lo", "type": "quantitative", "scale": {"domain": [0.5, 15.5], "nice": false, "zero": false}, "axis": null},
                   "x2": {"field": "hi"},
                   "y": {"datum": 0.135, "type": "quantitative", "scale": {"domain": [0, 1], "reverse": true}, "axis": null}
                 }},
                {"mark": {"type": "rule", "strokeWidth": 2.5, "color": "#000"},
                 "encoding": {
                   "x": {"field": "lo", "type": "quantitative"},
                   "y": {"datum": 0.01, "type": "quantitative"},
                   "y2": {"datum": 0.135}
                 }},
                {"mark": {"type": "rule", "strokeWidth": 2.5, "color": "#000"},
                 "encoding": {
                   "x": {"field": "hi", "type": "quantitative"},
                   "y": {"datum": 0.01, "type": "quantitative"},
                   "y2": {"datum": 0.135}
                 }},
                {"mark": {"type": "text", "fontSize": 23, "fontWeight": "bold", "baseline": "top", "align": "center", "lineBreak": " ", "lineHeight": 28, "color": "#000"},
                 "encoding": {
                   "x": {"field": "mid", "type": "quantitative"},
                   "y": {"datum": 0.19, "type": "quantitative"},
                   "text": {"field": "group"}
                 }}
              ]
            }
          ]
        }
      ]
    }
  ]
}
